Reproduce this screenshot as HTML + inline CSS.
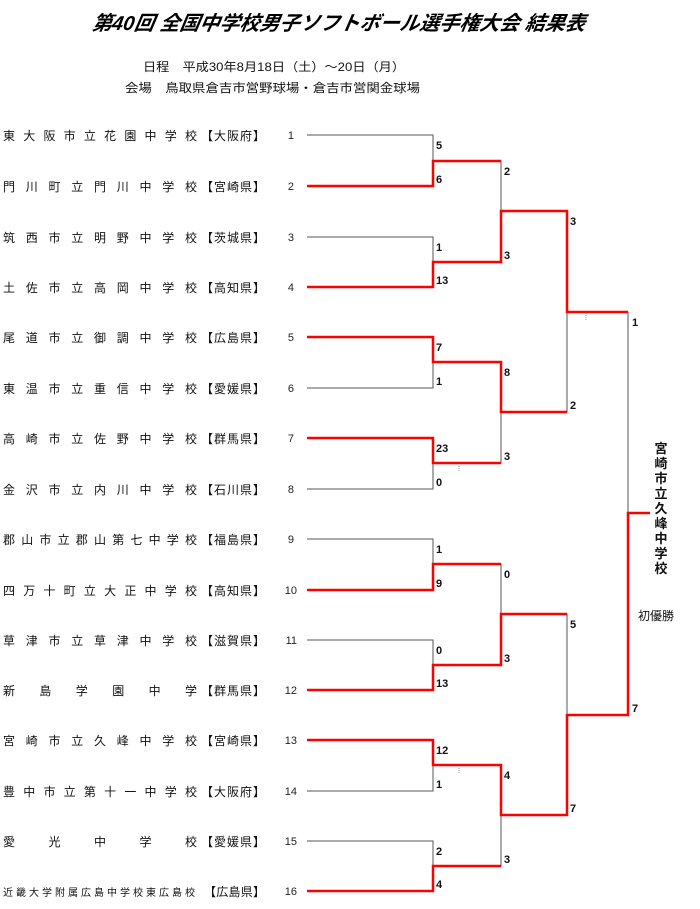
<!DOCTYPE html>
<html><head><meta charset="utf-8"><style>
html,body{margin:0;padding:0;background:#fff;}
svg{display:block;}
.n{font-family:"Liberation Sans","Noto Sans CJK JP",sans-serif;font-size:12px;fill:#111;}
.s{font-family:"Liberation Sans",sans-serif;font-size:11px;font-weight:bold;fill:#111;}
.k{font-family:"Liberation Sans",sans-serif;font-size:11px;fill:#222;}
</style></head><body>
<svg width="700" height="909" viewBox="0 0 700 909" xmlns="http://www.w3.org/2000/svg">
<text x="338" y="30" text-anchor="middle" font-family="'Liberation Sans','Noto Sans CJK JP',sans-serif" font-size="20" font-weight="bold" font-style="italic" transform="translate(338,0) skewX(-10) translate(-338,0) translate(5,0)">第40回 全国中学校男子ソフトボール選手権大会 結果表</text>
<text x="143" y="71" class="n" font-size="11" textLength="262" lengthAdjust="spacingAndGlyphs">日程　平成30年8月18日（土）～20日（月）</text>
<text x="125" y="92" class="n" font-size="11" textLength="295" lengthAdjust="spacingAndGlyphs">会場　鳥取県倉吉市営野球場・倉吉市営関金球場</text>

<g class="n">
<text x="3" y="140" textLength="194" lengthAdjust="spacing">東大阪市立花園中学校</text><text x="201" y="140" textLength="64" lengthAdjust="spacing">【大阪府】</text>
<text x="3" y="191" textLength="194" lengthAdjust="spacing">門川町立門川中学校</text><text x="201" y="191" textLength="64" lengthAdjust="spacing">【宮崎県】</text>
<text x="3" y="242" textLength="194" lengthAdjust="spacing">筑西市立明野中学校</text><text x="201" y="242" textLength="64" lengthAdjust="spacing">【茨城県】</text>
<text x="3" y="292" textLength="194" lengthAdjust="spacing">土佐市立高岡中学校</text><text x="201" y="292" textLength="64" lengthAdjust="spacing">【高知県】</text>
<text x="3" y="342" textLength="194" lengthAdjust="spacing">尾道市立御調中学校</text><text x="201" y="342" textLength="64" lengthAdjust="spacing">【広島県】</text>
<text x="3" y="393" textLength="194" lengthAdjust="spacing">東温市立重信中学校</text><text x="201" y="393" textLength="64" lengthAdjust="spacing">【愛媛県】</text>
<text x="3" y="443" textLength="194" lengthAdjust="spacing">高崎市立佐野中学校</text><text x="201" y="443" textLength="64" lengthAdjust="spacing">【群馬県】</text>
<text x="3" y="494" textLength="194" lengthAdjust="spacing">金沢市立内川中学校</text><text x="201" y="494" textLength="64" lengthAdjust="spacing">【石川県】</text>
<text x="3" y="544" textLength="194" lengthAdjust="spacing">郡山市立郡山第七中学校</text><text x="201" y="544" textLength="64" lengthAdjust="spacing">【福島県】</text>
<text x="3" y="595" textLength="194" lengthAdjust="spacing">四万十町立大正中学校</text><text x="201" y="595" textLength="64" lengthAdjust="spacing">【高知県】</text>
<text x="3" y="645" textLength="194" lengthAdjust="spacing">草津市立草津中学校</text><text x="201" y="645" textLength="64" lengthAdjust="spacing">【滋賀県】</text>
<text x="3" y="695" textLength="194" lengthAdjust="spacing">新島学園中学</text><text x="201" y="695" textLength="64" lengthAdjust="spacing">【群馬県】</text>
<text x="3" y="745" textLength="194" lengthAdjust="spacing">宮崎市立久峰中学校</text><text x="201" y="745" textLength="64" lengthAdjust="spacing">【宮崎県】</text>
<text x="3" y="796" textLength="194" lengthAdjust="spacing">豊中市立第十一中学校</text><text x="201" y="796" textLength="64" lengthAdjust="spacing">【大阪府】</text>
<text x="3" y="846" textLength="194" lengthAdjust="spacing">愛光中学校</text><text x="201" y="846" textLength="64" lengthAdjust="spacing">【愛媛県】</text>
<text x="3" y="896" font-size="10" textLength="192" lengthAdjust="spacing">近畿大学附属広島中学校東広島校</text><text x="204" y="896" textLength="61" lengthAdjust="spacing">【広島県】</text>
</g>
<g class="k" text-anchor="end">
<text x="294" y="139">1</text><text x="294" y="190">2</text><text x="294" y="241">3</text><text x="294" y="291">4</text>
<text x="294" y="341">5</text><text x="294" y="392">6</text><text x="294" y="442">7</text><text x="294" y="493">8</text>
<text x="294" y="543">9</text><text x="297" y="594">10</text><text x="297" y="644">11</text><text x="297" y="694">12</text>
<text x="297" y="744">13</text><text x="297" y="795">14</text><text x="297" y="845">15</text><text x="297" y="895">16</text>
</g>

<g stroke="#555" stroke-width="1" fill="none" shape-rendering="crispEdges">
<path d="M307 135H433V186H307 M307 237H433V287H307 M307 337H433V388H307 M307 438H433V489H307 M307 539H433V590H307 M307 640H433V690H307 M307 740H433V791H307 M307 841H433V891H307"/>
<path d="M433 161H501V262H433 M433 362H501V463H433 M433 564H501V665H433 M433 765H501V866H433"/>
<path d="M501 211H567V412H501 M501 614H567V815H501"/>
<path d="M567 312H628V715H567"/>
</g>
<g stroke="#ff0000" stroke-width="2.5" fill="none" stroke-linejoin="miter">
<path d="M307 186H433V161H501"/>
<path d="M307 287H433V262H501V211H567V312H628"/>
<path d="M307 337H433V362H501V412H567"/>
<path d="M307 438H433V463H501"/>
<path d="M307 590H433V564H501"/>
<path d="M307 690H433V665H501V614H567"/>
<path d="M307 740H433V765H501V815H567V715H628V513H650"/>
<path d="M307 891H433V866H501"/>
</g>
<g stroke="#999" stroke-width="1" stroke-dasharray="1,1">
<path d="M586 313V320 M459 466V472 M459 768V774"/>
</g>

<g class="s">
<text x="436" y="149">5</text><text x="436" y="183">6</text>
<text x="436" y="251">1</text><text x="436" y="284">13</text>
<text x="436" y="351">7</text><text x="436" y="385">1</text>
<text x="436" y="452">23</text><text x="436" y="486">0</text>
<text x="436" y="553">1</text><text x="436" y="587">9</text>
<text x="436" y="654">0</text><text x="436" y="687">13</text>
<text x="436" y="754">12</text><text x="436" y="788">1</text>
<text x="436" y="855">2</text><text x="436" y="888">4</text>
<text x="504" y="175">2</text><text x="504" y="259">3</text>
<text x="504" y="376">8</text><text x="504" y="460">3</text>
<text x="504" y="578">0</text><text x="504" y="662">3</text>
<text x="504" y="779">4</text><text x="504" y="863">3</text>
<text x="570" y="225">3</text><text x="570" y="409">2</text>
<text x="570" y="628">5</text><text x="570" y="812">7</text>
<text x="632" y="326">1</text><text x="632" y="712">7</text>
</g>
<g font-family="'Liberation Sans','Noto Sans CJK JP',sans-serif" font-size="13" font-weight="bold" text-anchor="middle" fill="#111">
<text x="661" y="453">宮</text><text x="661" y="468">崎</text><text x="661" y="483">市</text><text x="661" y="498">立</text><text x="661" y="513">久</text><text x="661" y="528">峰</text><text x="661" y="543">中</text><text x="661" y="558">学</text><text x="661" y="573">校</text>
</g>
<text x="638" y="620" class="n" font-size="11">初優勝</text>
</svg>
</body></html>
